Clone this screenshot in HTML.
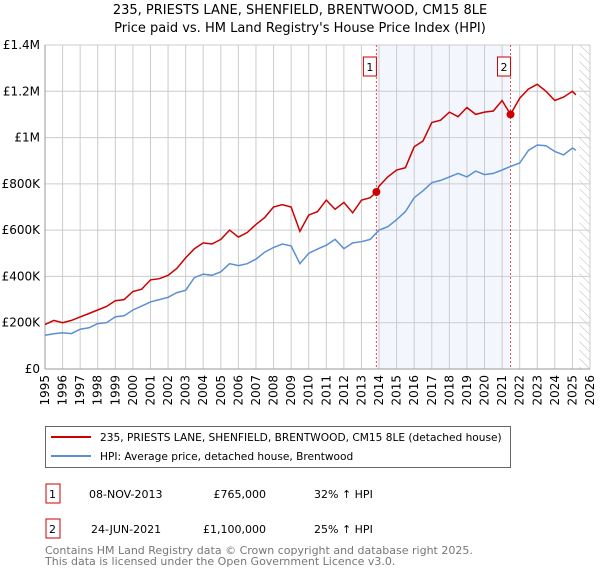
<!DOCTYPE html>
<html><head><meta charset="utf-8"><style>
body{margin:0;background:#fff;font-family:"DejaVu Sans","Liberation Sans",sans-serif;}
svg text{font-family:"DejaVu Sans","Liberation Sans",sans-serif;}
</style></head><body>
<svg id="c" width="600" height="560" xmlns="http://www.w3.org/2000/svg">
<defs><pattern id="hatch" width="6" height="6" patternUnits="userSpaceOnUse" patternTransform="rotate(-45)"><line x1="0" y1="0" x2="0" y2="6" stroke="#bbb" stroke-width="1"/></pattern></defs>
<text x="300" y="14" text-anchor="middle" font-size="13">235, PRIESTS LANE, SHENFIELD, BRENTWOOD, CM15 8LE</text>
<text x="300" y="32" text-anchor="middle" font-size="13">Price paid vs. HM Land Registry's House Price Index (HPI)</text>
<g id="plot"></g>
<g>
<rect x="45.5" y="426.5" width="465" height="41" fill="#fff" stroke="#666"/>
<line x1="51" y1="437" x2="91" y2="437" stroke="#cc0000" stroke-width="2"/>
<text x="100" y="441" font-size="10.6">235, PRIESTS LANE, SHENFIELD, BRENTWOOD, CM15 8LE (detached house)</text>
<line x1="51" y1="456" x2="91" y2="456" stroke="#5b8fd4" stroke-width="2"/>
<text x="100" y="460" font-size="10.6">HPI: Average price, detached house, Brentwood</text>
</g>
<g font-size="11">
<rect x="46" y="484" width="14" height="19" fill="#fff" stroke="#cc0000"/><text x="49" y="498">1</text>
<text x="89" y="498">08-NOV-2013</text><text x="266" y="498" text-anchor="end">£765,000</text><text x="314" y="498">32% ↑ HPI</text>
<rect x="46" y="519" width="14" height="19" fill="#fff" stroke="#cc0000"/><text x="49" y="533">2</text>
<text x="91" y="533">24-JUN-2021</text><text x="266" y="533" text-anchor="end">£1,100,000</text><text x="314" y="533">25% ↑ HPI</text>
</g>
<text x="45" y="554" font-size="11" fill="#777">Contains HM Land Registry data © Crown copyright and database right 2025.</text>
</svg>
<div style="position:absolute;left:45px;top:545px;font-size:11px;color:#777;line-height:11px;font-family:'DejaVu Sans',sans-serif"><br>This data is licensed under the Open Government Licence v3.0.</div>
<script>
const hpiYears=[1995,1995.5,1996,1996.5,1997,1997.5,1998,1998.5,1999,1999.5,2000,2000.5,2001,2001.5,2002,2002.5,2003,2003.5,2004,2004.5,2005,2005.5,2006,2006.5,2007,2007.5,2008,2008.5,2009,2009.5,2010,2010.5,2011,2011.5,2012,2012.5,2013,2013.5,2014,2014.5,2015,2015.5,2016,2016.5,2017,2017.5,2018,2018.5,2019,2019.5,2020,2020.5,2021,2021.5,2022,2022.5,2023,2023.5,2024,2024.5,2025,2025.2];
const hpiValues=[146,152,157,153,172,178,196,200,225,230,255,272,290,300,310,330,340,395,410,405,420,455,447,455,475,505,525,540,532,455,500,518,535,560,520,545,550,560,600,615,645,680,740,770,805,815,830,845,830,855,840,845,860,876,890,945,968,965,940,925,955,945];
const redYears=[1995,1995.5,1996,1996.5,1997,1997.5,1998,1998.5,1999,1999.5,2000,2000.5,2001,2001.5,2002,2002.5,2003,2003.5,2004,2004.5,2005,2005.5,2006,2006.5,2007,2007.5,2008,2008.5,2009,2009.5,2010,2010.5,2011,2011.5,2012,2012.5,2013,2013.5,2013.85,2014,2014.5,2015,2015.5,2016,2016.5,2017,2017.5,2018,2018.5,2019,2019.5,2020,2020.5,2021,2021.48,2022,2022.5,2023,2023.5,2024,2024.5,2025,2025.2];
const redValues=[192,210,200,210,225,240,255,270,295,300,335,345,385,390,405,435,480,520,545,540,560,600,570,590,625,655,700,710,700,595,665,680,730,690,720,675,730,740,765,790,830,860,870,960,985,1065,1075,1110,1090,1130,1100,1110,1115,1160,1100,1170,1210,1230,1200,1160,1175,1200,1185];
const sales=[{n:"1",x:2013.85,v:765},{n:"2",x:2021.48,v:1100}];
const yTicks=[0,200,400,600,800,1000,1200,1400];
const yLabels=["£0","£200K","£400K","£600K","£800K","£1M","£1.2M","£1.4M"];
const xTicks=[1995,1996,1997,1998,1999,2000,2001,2002,2003,2004,2005,2006,2007,2008,2009,2010,2011,2012,2013,2014,2015,2016,2017,2018,2019,2020,2021,2022,2023,2024,2025,2026];
const L=45,R=590,T=45,B=369;
const xs=y=>L+(y-1995)/(2026-1995)*(R-L);
const ys=v=>B-v/1400*(B-T);
const NS="http://www.w3.org/2000/svg";
const g=document.getElementById('plot');
function mk(t,a){const e=document.createElementNS(NS,t);for(const k in a)e.setAttribute(k,a[k]);g.appendChild(e);return e;}
let e;
e=mk('rect',{x:xs(2013.85),y:T,width:xs(2021.48)-xs(2013.85),height:B-T,fill:'#eef3fc',opacity:0.7});

e=mk('rect',{x:xs(2025.4),y:T,width:R-xs(2025.4),height:B-T,fill:'url(#hatch)'});

xTicks.forEach(t=>{e=mk('line',{x1:xs(t),x2:xs(t),y1:T,y2:B,stroke:'#ccc'});

e=mk('text',{x:0,y:0,'font-size':12,'text-anchor':'end',transform:`translate(${xs(t)+4},${B+6}) rotate(-90)`});e.textContent=t;
});
yTicks.forEach((t,i)=>{e=mk('line',{x1:L,x2:R,y1:ys(t),y2:ys(t),stroke:'#ccc'});

e=mk('text',{x:L-5,y:ys(t)+4,'font-size':12,'text-anchor':'end'});e.textContent=yLabels[i];
});
e=mk('line',{x1:L,x2:L,y1:T,y2:B,stroke:'#999'});
e=mk('line',{x1:L,x2:R,y1:B,y2:B,stroke:'#999'});
sales.forEach(s=>{e=mk('line',{x1:xs(s.x),x2:xs(s.x),y1:T,y2:B,stroke:'#e05050','stroke-dasharray':'2,2'});

e=mk('rect',{x:xs(s.x)-13,y:57,width:13,height:19,fill:'#fff',stroke:'#cc0000'});

e=mk('text',{x:xs(s.x)-6.5,y:71,'font-size':11,'text-anchor':'middle'});e.textContent=s.n;
});
function path(xa,va,c,name){let d=xa.map((x,i)=>(i?'L':'M')+xs(x).toFixed(1)+','+ys(va[i]).toFixed(1)).join('');
e=mk('path',{d:d,fill:'none',stroke:c,'stroke-width':1.5});}
path(hpiYears,hpiValues,'#5b8fd4','hpi-line');
path(redYears,redValues,'#cc0000','property-line');
sales.forEach(s=>{e=mk('circle',{cx:xs(s.x),cy:ys(s.v),r:4,fill:'#cc0000'});
});
</script>
</body></html>
